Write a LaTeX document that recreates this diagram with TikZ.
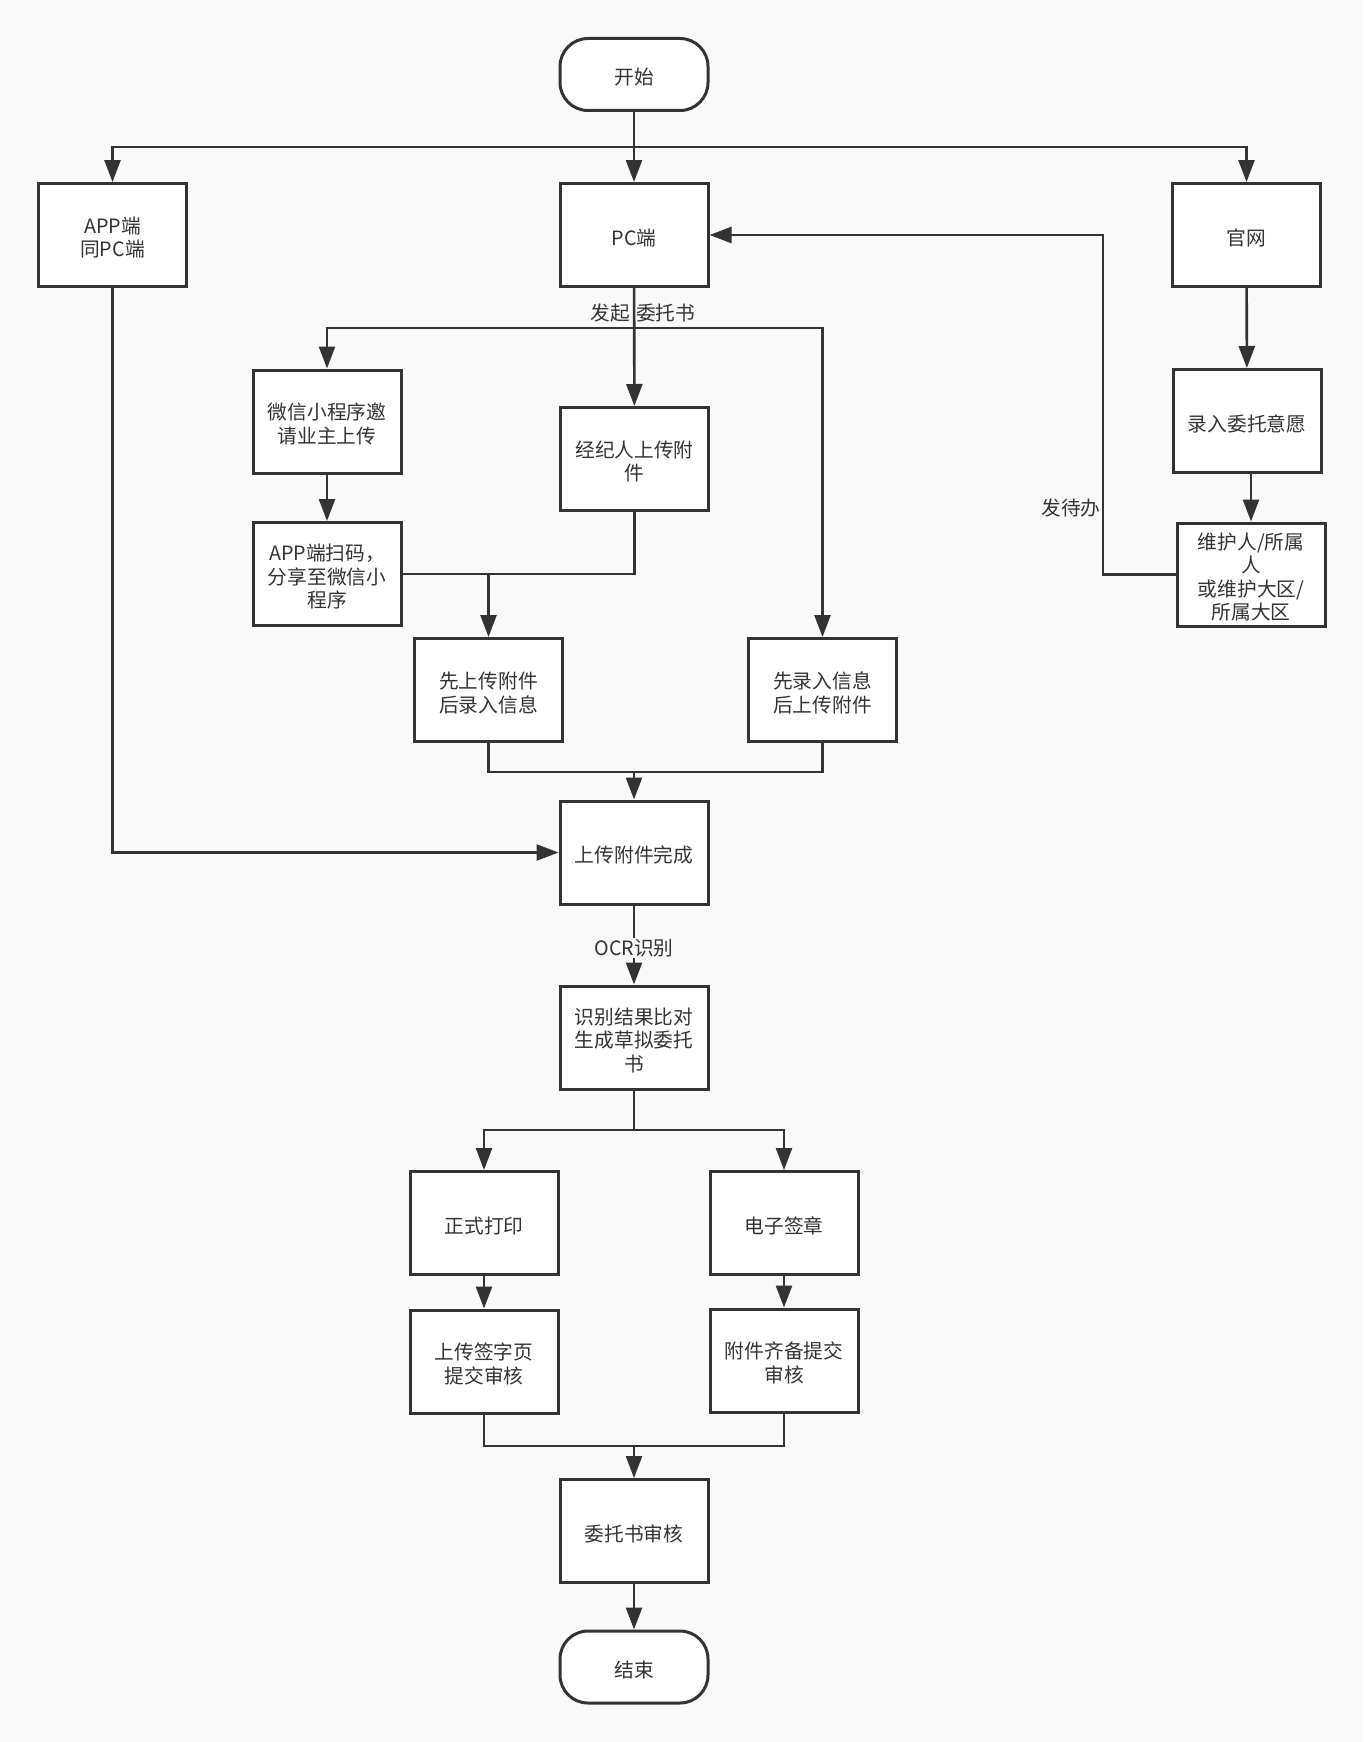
\documentclass[tikz,border=0pt]{standalone}
\usepackage{fontspec}
\newfontfamily\cjk{Noto Sans CJK SC}
\usetikzlibrary{arrows.meta,calc}
\definecolor{ink}{HTML}{333333}
\definecolor{bg}{HTML}{F9F9F9}
\newcommand\bt[1]{\raisebox{-5.4pt}[\height][\depth]{\begin{tabular}{@{}c@{}}#1\end{tabular}}}
\tikzset{
  box/.style={draw=ink, fill=white, line width=3pt, minimum width=148pt, minimum height=103pt,
    inner sep=0pt, text=ink, font=\cjk\fontsize{19.7}{23.5}\selectfont},
  term/.style={box, rounded corners=28pt, minimum height=72pt},
  conn/.style={draw=ink, line width=2.6pt},
  arr/.style={conn, -{Triangle[length=22pt,width=16pt]}},
  lbl/.style={text=ink, inner sep=1pt, font=\cjk\fontsize{19.7}{23.5}\selectfont},
}
\begin{document}
\begin{tikzpicture}[x=1pt,y=-1pt]
\fill[bg] (0,0) rectangle (1363,1742);
\useasboundingbox (0,0) rectangle (1363,1742);

\node[term] (start) at (634,74.5) {\bt{开始}};
\node[box] (app) at (112.5,235) {\bt{APP端\\同PC端}};
\node[box] (pc) at (634,235) {\bt{PC端}};
\node[box] (gw) at (1246.5,235) {\bt{官网}};
\node[box] (wx) at (327,421.5) {\bt{微信小程序邀\\请业主上传}};
\node[box] (jjr) at (634.5,459) {\bt{经纪人上传附\\件}};
\node[box] (scan) at (327,574) {\bt{APP端扫码，\\分享至微信小\\程序}};
\node[box] (xs) at (488.5,690) {\bt{先上传附件\\后录入信息}};
\node[box] (xl) at (822.5,690) {\bt{先录入信息\\后上传附件}};
\node[box] (done) at (634,852.5) {\bt{上传附件完成}};
\node[box] (cmp) at (634,1037.5) {\bt{识别结果比对\\生成草拟委托\\书}};
\node[box] (print) at (484,1223) {\bt{正式打印}};
\node[box] (sign) at (784,1223) {\bt{电子签章}};
\node[box] (upsig) at (484,1361.5) {\bt{上传签字页\\提交审核}};
\node[box] (fj) at (784,1360.5) {\bt{附件齐备提交\\审核}};
\node[box] (audit) at (634,1531) {\bt{委托书审核}};
\node[term] (end) at (634,1667) {\bt{结束}};
\node[box] (lr) at (1247,421) {\bt{录入委托意愿}};
\node[box] (wh) at (1251,574.5) {\bt{维护人/所属\\人\\或维护大区/\\所属大区}};

\coordinate (j1) at (634,147);
\coordinate (j2) at (634,328);
\coordinate (j3) at (488.5,574);
\coordinate (j4) at (634,772);
\coordinate (j5) at (634,1130);
\coordinate (j6) at (634,1446);
\coordinate (k) at (1103,400);

% top distribution
\draw[arr] (start) -- (pc);
\draw[arr] (j1) -| (app.north);
\draw[arr] (j1) -| (gw.north);

% PC branch
\draw[arr] (pc) -- (jjr);
\draw[arr] (j2) -| (wx.north);
\draw[arr] (j2) -| (xl.north);
\node[lbl] (faqi) at (643,313) {发起\hspace{6pt}委托书};

\draw[arr] (wx) -- (scan);
\draw[conn] (jjr.south) |- (scan.east);
\draw[arr] (j3) -- (xs.north);

\draw[conn] (xs.south) |- (j4) -| (xl.south);
\draw[arr] (j4) -- (done);

\draw[arr] (app.south) |- (done.west);

\draw[arr] (done) -- (cmp);
\node[lbl, fill=bg] (ocr) at (634,948) {OCR识别};

\draw[conn] (cmp.south) -- (j5);
\draw[arr] (j5) -| (print.north);
\draw[arr] (j5) -| (sign.north);
\draw[arr] (print) -- (upsig);
\draw[arr] (sign) -- (fj);
\draw[conn] (upsig.south) |- (j6) -| (fj.south);
\draw[arr] (j6) -- (audit);
\draw[arr] (audit) -- (end);

% right side
\draw[arr] (gw) -- (lr);
\draw[arr] (lr.south -| wh.north) -- (wh.north);
\draw[arr] (wh.west) -| (k) |- (pc.east);
\node[lbl] (dai) at (1071,508) {发待办};
\end{tikzpicture}
\end{document}
